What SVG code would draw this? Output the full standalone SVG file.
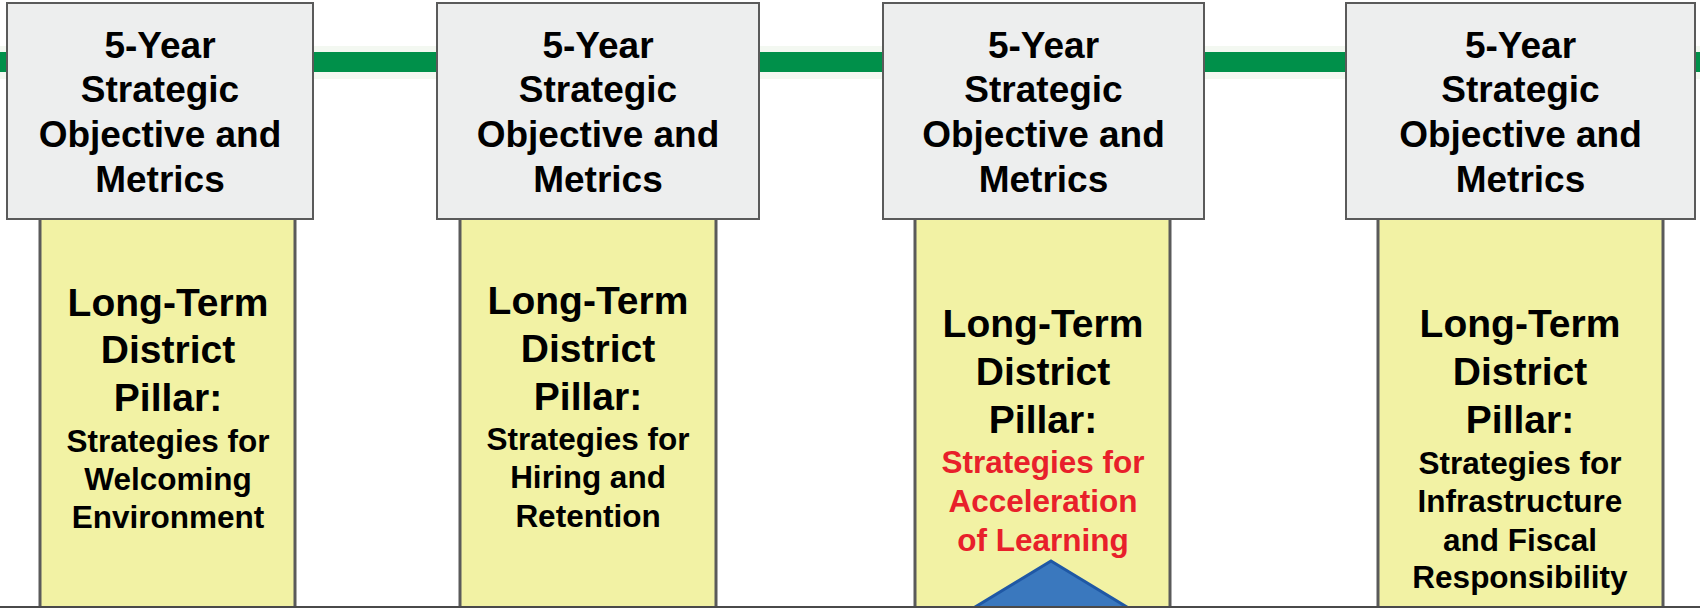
<svg xmlns="http://www.w3.org/2000/svg" width="1700" height="608" viewBox="0 0 1700 608">
<style>
.box{fill:#edeeee;stroke:#5a5a5a;stroke-width:2}
.pillar{fill:#f2f2a4;stroke:#5a5a5a;stroke-width:3}
.t{font-family:"Liberation Sans",Arial,sans-serif;font-weight:bold;text-anchor:middle;fill:#000}
.hd{font-size:37px}
.big{font-size:39px}
.sm{font-size:31.5px}
.red{fill:#e8202a}
</style>
<rect x="0" y="0" width="1700" height="608" fill="#ffffff"/>
<g id="timeline">
<rect x="0" y="46" width="1700" height="33" fill="#f3f8f1"/>
<rect x="0" y="52" width="1700" height="20" fill="#00904a"/>
</g>
<g id="pillar1">
<rect class="pillar" x="40" y="217" width="255" height="400"/>
<text class="t big" x="168" y="316">Long-Term</text>
<text class="t big" x="168" y="363">District</text>
<text class="t big" x="168" y="411">Pillar:</text>
<text class="t sm" x="168" y="452">Strategies for</text>
<text class="t sm" x="168" y="490">Welcoming</text>
<text class="t sm" x="168" y="528">Environment</text>
</g>
<g id="pillar2">
<rect class="pillar" x="460" y="217" width="256" height="400"/>
<text class="t big" x="588" y="314">Long-Term</text>
<text class="t big" x="588" y="362">District</text>
<text class="t big" x="588" y="410">Pillar:</text>
<text class="t sm" x="588" y="450">Strategies for</text>
<text class="t sm" x="588" y="488">Hiring and</text>
<text class="t sm" x="588" y="527">Retention</text>
</g>
<g id="pillar3">
<rect class="pillar" x="915" y="217" width="255" height="400"/>
<text class="t big" x="1043" y="337">Long-Term</text>
<text class="t big" x="1043" y="385">District</text>
<text class="t big" x="1043" y="433">Pillar:</text>
<text class="t sm red" x="1043" y="473">Strategies for</text>
<text class="t sm red" x="1043" y="512">Acceleration</text>
<text class="t sm red" x="1043" y="551">of Learning</text>
</g>
<g id="pillar4">
<rect class="pillar" x="1378" y="217" width="285" height="400"/>
<text class="t big" x="1520" y="337">Long-Term</text>
<text class="t big" x="1520" y="385">District</text>
<text class="t big" x="1520" y="433">Pillar:</text>
<text class="t sm" x="1520" y="474">Strategies for</text>
<text class="t sm" x="1520" y="512">Infrastructure</text>
<text class="t sm" x="1520" y="551">and Fiscal</text>
<text class="t sm" x="1520" y="588">Responsibility</text>
</g>
<g id="box1">
<rect class="box" x="7" y="3" width="306" height="216"/>
<text class="t hd" x="160" y="58">5-Year</text>
<text class="t hd" x="160" y="102">Strategic</text>
<text class="t hd" x="160" y="147">Objective and</text>
<text class="t hd" x="160" y="192">Metrics</text>
</g>
<g id="box2">
<rect class="box" x="437" y="3" width="322" height="216"/>
<text class="t hd" x="598" y="58">5-Year</text>
<text class="t hd" x="598" y="102">Strategic</text>
<text class="t hd" x="598" y="147">Objective and</text>
<text class="t hd" x="598" y="192">Metrics</text>
</g>
<g id="box3">
<rect class="box" x="883" y="3" width="321" height="216"/>
<text class="t hd" x="1043.5" y="58">5-Year</text>
<text class="t hd" x="1043.5" y="102">Strategic</text>
<text class="t hd" x="1043.5" y="147">Objective and</text>
<text class="t hd" x="1043.5" y="192">Metrics</text>
</g>
<g id="box4">
<rect class="box" x="1346" y="3" width="349" height="216"/>
<text class="t hd" x="1520.5" y="58">5-Year</text>
<text class="t hd" x="1520.5" y="102">Strategic</text>
<text class="t hd" x="1520.5" y="147">Objective and</text>
<text class="t hd" x="1520.5" y="192">Metrics</text>
</g>
<g id="arrow">
<polygon points="1051,561 1145,618 957,618" fill="#3a78be" stroke="#1f58a5" stroke-width="3" stroke-linejoin="miter"/>
</g>
<g id="connectors">
<line x1="0" y1="607" x2="1700" y2="607" stroke="#4a4a4a" stroke-width="2"/>
</g>
</svg>
